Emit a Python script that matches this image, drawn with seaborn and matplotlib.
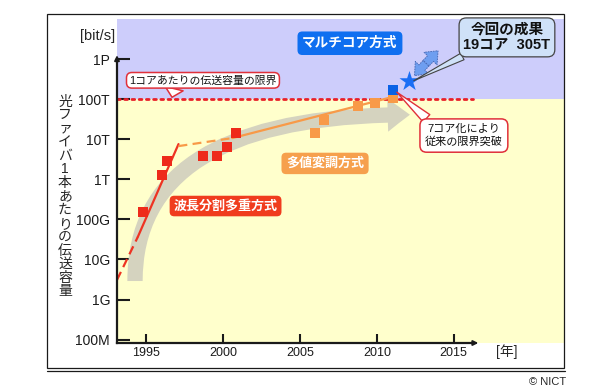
import matplotlib.pyplot as plt
import seaborn as sns
import numpy as np
from matplotlib.patches import FancyArrowPatch, Rectangle
from matplotlib.lines import Line2D

# values: year vs. capacity per fibre [bit/s]
wdm_years = [1994.8, 1996.0, 1996.35, 1998.7, 1999.6, 2000.25, 2000.85]
wdm_caps = [1.5e11, 1.3e12, 2.9e12, 3.8e12, 3.8e12, 6.5e12, 1.45e13]
mlm_years = [2006.0, 2006.55, 2008.75, 2009.9, 2011.05]
mlm_caps = [1.45e13, 3.0e13, 6.8e13, 8.1e13, 1.08e14]
mc_years = [2011.05]
mc_caps = [1.7e14]
star_years = [2012.1]
star_caps = [2.8e14]

# trend lines (dashed part, solid part)
wdm_dash_years = [1993.1, 1994.45]
wdm_dash_caps = [10**9.49, 10**10.56]
wdm_line_years = [1994.45, 1997.1]
wdm_line_caps = [10**10.56, 10**12.88]
mlm_dash_years = [1997.1, 2000.6]
mlm_dash_caps = [10**12.83, 10**13.03]
mlm_line_years = [2000.6, 2011.05]
mlm_line_caps = [10**13.03, 10**14.06]

limit_years = [1993.1, 2016.25]
limit_caps = [1e14, 1e14]

ytick_vals = [1e8, 1e9, 1e10, 1e11, 1e12, 1e13, 1e14, 1e15]
ytick_labels = ["100M", "1G", "10G", "100G", "1T", "10T", "100T", "1P"]
xtick_vals = [1995, 2000, 2005, 2010, 2015]
ylabel = "光ファイバ1本あたりの伝送容量"

X0, X1 = 1993.1, 2022.17
Y0, Y1 = 10**7.915, 10**16.003

sns.set_theme(style="white")
plt.rcParams["font.family"] = ["Liberation Sans", "Noto Sans CJK JP"]

W, H = 616, 390
fig = plt.figure(figsize=(6.16, 3.90), dpi=100)
ax = fig.add_axes([117 / W, 1 - 343 / H, (564 - 117) / W, (343 - 19) / H])
ax.set_yscale("log")
ax.set_xlim(X0, X1)
ax.set_ylim(Y0, Y1)

# background zones
ax.axhspan(1e14, Y1, color="#cdcdfb", lw=0, zorder=0)
ax.axhspan(Y0, 1e14, color="#ffffcc", lw=0, zorder=0)

# big grey trend arrow
band = FancyArrowPatch((1994.27, 2.9e9), (2012.15, 4.1e13),
                       arrowstyle="simple,head_length=1.6,head_width=2.4,tail_width=1.1",
                       connectionstyle="angle3,angleA=90,angleB=0",
                       mutation_scale=10, color="#d5d3bf", lw=0,
                       shrinkA=0, shrinkB=0, zorder=1)
ax.add_patch(band)

# limit of one core
sns.lineplot(x=limit_years, y=limit_caps, ax=ax, color="#e8202a", lw=2.0,
             linestyle=(0, (1, 1.6)), dash_capstyle="round", zorder=3)

# trend lines
sns.lineplot(x=wdm_dash_years, y=wdm_dash_caps, ax=ax, color="#ee3322", lw=1.6,
             linestyle=(0, (4, 2.4)), zorder=3)
sns.lineplot(x=wdm_line_years, y=wdm_line_caps, ax=ax, color="#ee3322", lw=1.6, zorder=3)
sns.lineplot(x=mlm_dash_years, y=mlm_dash_caps, ax=ax, color="#f89a48", lw=1.6,
             linestyle=(0, (4, 2.4)), zorder=3)
sns.lineplot(x=mlm_line_years, y=mlm_line_caps, ax=ax, color="#f89a48", lw=1.6, zorder=3)

# measured points
sns.scatterplot(x=wdm_years, y=wdm_caps, ax=ax, marker="s", s=56, color="#ee2a1a",
                linewidth=0, zorder=4)
sns.scatterplot(x=mlm_years, y=mlm_caps, ax=ax, marker="s", s=56, color="#f89a48",
                linewidth=0, zorder=4)
sns.scatterplot(x=mc_years, y=mc_caps, ax=ax, marker="s", s=56, color="#0a62e6",
                linewidth=0, zorder=5)
sns.scatterplot(x=star_years, y=star_caps, ax=ax, marker="*", s=230, color="#1a6ef5",
                linewidth=0, zorder=5)

# blue double arrow next to the star (two halves from the middle)
dmid = (2013.2, 10**14.9)
for end in [(2012.45, 10**14.59), (2013.98, 10**15.21)]:
    ax.add_patch(FancyArrowPatch(dmid, end,
                                 arrowstyle="simple,head_length=0.6,head_width=1.0,tail_width=0.45",
                                 mutation_scale=13, fc="#6e9ef0", ec="#4a6cb8", lw=0.7,
                                 ls=":", shrinkA=0, shrinkB=0, zorder=6))

# axes styling
ax.set_yticks(ytick_vals, labels=ytick_labels)
ax.yaxis.set_minor_locator(plt.NullLocator())
ax.set_xticks(xtick_vals)
ax.tick_params(axis="y", direction="in", length=9.4, width=1.5, pad=5,
               labelsize=10, left=True, colors="k")
ax.tick_params(axis="x", direction="in", length=6.5, width=1.5, pad=3,
               labelsize=9, bottom=True, colors="k")
for side in ["top", "right"]:
    ax.spines[side].set_visible(False)
ax.spines["left"].set_bounds(Y0, 1e15)
ax.spines["bottom"].set_bounds(X0, 2016.2)
for side in ["left", "bottom"]:
    ax.spines[side].set_linewidth(1.6)
    ax.spines[side].set_color("k")
    ax.spines[side].set_zorder(7)
ax.annotate("", xy=(X0, 10**15.1), xytext=(X0, 10**14.95), annotation_clip=False,
            arrowprops=dict(arrowstyle="-|>", mutation_scale=7, color="k", lw=1.4,
                            shrinkA=0, shrinkB=0))
ax.annotate("", xy=(2016.6, Y0), xytext=(2016.0, Y0), annotation_clip=False,
            arrowprops=dict(arrowstyle="-|>", mutation_scale=7, color="k", lw=1.4,
                            shrinkA=0, shrinkB=0))

# labels in coloured boxes
ax.text(2008.25, 2.5e15, "マルチコア方式", ha="center", va="center", color="white",
        fontsize=9.8, fontweight="bold", zorder=8,
        bbox=dict(boxstyle="round,pad=0.35,rounding_size=0.35", fc="#0f6ff0", ec="none"))
ax.text(2006.63, 2.5e12, "多値変調方式", ha="center", va="center", color="white",
        fontsize=9.4, fontweight="bold", zorder=8,
        bbox=dict(boxstyle="round,pad=0.35,rounding_size=0.35", fc="#f6a04d", ec="none"))
ax.text(2000.16, 2.16e11, "波長分割多重方式", ha="center", va="center", color="white",
        fontsize=9.4, fontweight="bold", zorder=8,
        bbox=dict(boxstyle="round,pad=0.3,rounding_size=0.35", fc="#f03c1e", ec="none"))

# callouts
ax.annotate("今回の成果\n19コア  305T", xy=(2012.4, 2.9e14), xytext=(2018.46, 3.5e15),
            ha="center", va="center", fontsize=10.5, fontweight="bold", color="#111111",
            linespacing=1.2, zorder=8,
            bbox=dict(boxstyle="round,pad=0.3,rounding_size=0.5", fc="#cfe1f8",
                      ec="#444444", lw=0.9),
            arrowprops=dict(arrowstyle="wedge,tail_width=0.5", fc="#cfe1f8", ec="#444444",
                            lw=0.8, relpos=(0.08, 0.0), shrinkA=0, shrinkB=0))
ax.annotate("1コアあたりの伝送容量の限界", xy=(1996.68, 1.12e14), xytext=(1998.69, 2.97e14),
            ha="center", va="center", fontsize=7.8, color="#111111", zorder=8,
            bbox=dict(boxstyle="round,pad=0.25,rounding_size=0.5", fc="white",
                      ec="#e0303a", lw=1.1),
            arrowprops=dict(arrowstyle="wedge,tail_width=1.7", fc="white", ec="#e0303a",
                            lw=1.1, relpos=(0.31, 0.0), shrinkA=0, shrinkB=0))
ax.annotate("7コア化により\n従来の限界突破", xy=(2011.3, 1.5e14), xytext=(2015.66, 1.24e13),
            ha="center", va="center", fontsize=8, color="#111111", linespacing=1.3, zorder=8,
            bbox=dict(boxstyle="round,pad=0.45,rounding_size=0.6", fc="white",
                      ec="#e0303a", lw=1.1),
            arrowprops=dict(arrowstyle="wedge,tail_width=0.9", fc="white", ec="#e0303a",
                            lw=1.0, relpos=(0.1, 1.0), shrinkA=0, shrinkB=0))

# axis titles
fig.text(98 / W, 1 - 36 / H, "[bit/s]", ha="center", va="center", fontsize=10.5)
fig.text(507 / W, 1 - 352 / H, "[年]", ha="center", va="center", fontsize=10)
for i, ch in enumerate(ylabel):
    fig.text(65 / W, 1 - (101.5 + i * 13.57) / H, ch, ha="center", va="center", fontsize=10)
fig.text(566 / W, 1 - 382 / H, "© NICT", ha="right", va="center", fontsize=8)

# outer frame with double bottom line
fig.add_artist(Rectangle((47 / W, 1 - 368 / H), (564 - 47) / W, (368 - 14) / H,
                         transform=fig.transFigure, fill=False, ec="k", lw=0.9))
fig.add_artist(Line2D([47 / W, 565 / W], [1 - 370.6 / H] * 2, transform=fig.transFigure,
                      color="k", lw=0.9))

fig.savefig("out.png", dpi=100)
